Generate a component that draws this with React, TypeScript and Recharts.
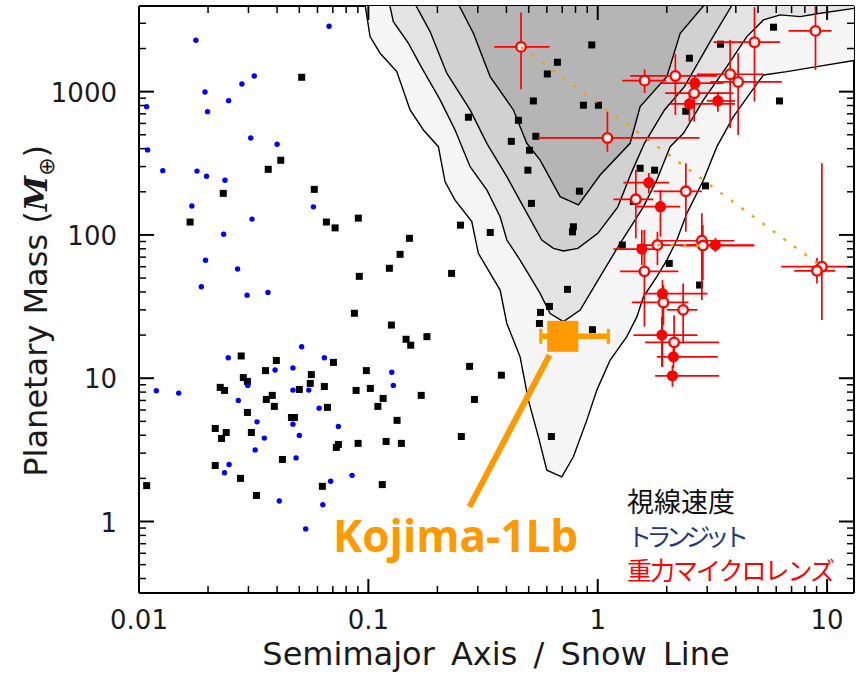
import { ScatterChart, Scatter, XAxis, YAxis } from "recharts";

// axis ticks (decades get labels, the rest are minor ticks)
const xTicks = [
  0.01, 0.02, 0.03, 0.04, 0.05, 0.06, 0.07, 0.08, 0.09,
  0.1, 0.2, 0.3, 0.4, 0.5, 0.6, 0.7, 0.8, 0.9,
  1, 2, 3, 4, 5, 6, 7, 8, 9, 10,
];
const yTicks = [
  0.4, 0.5, 0.6, 0.7, 0.8, 0.9, 1, 2, 3, 4, 5, 6, 7, 8, 9,
  10, 20, 30, 40, 50, 60, 70, 80, 90,
  100, 200, 300, 400, 500, 600, 700, 800, 900, 1000, 2000, 3000,
];

// sensitivity contours [a/snowline, mass], outermost first
const contour1: [number, number][] = [
  [0.0948, 5000], [0.1017, 2421], [0.1125, 1854], [0.133, 1380], [0.152, 745], [0.1738, 540],
  [0.2019, 413], [0.216, 235], [0.2388, 175], [0.2824, 124], [0.3017, 74.4], [0.3753, 41.2],
  [0.4015, 24.1], [0.4587, 14.1], [0.4985, 7.03], [0.5512, 3.9], [0.5998, 2.28], [0.6973, 2.05],
  [0.7832, 2.83], [0.8964, 5.1], [0.991, 8.26], [1.133, 13.4], [1.339, 19.5], [1.481, 26.8],
  [1.582, 37], [1.81, 51.1], [2.001, 66.8], [2.213, 92.1], [2.447, 141.5], [2.891, 241.8],
  [3.307, 413], [3.906, 669], [4.619, 975], [5.279, 1308], [6.677, 1380], [9.028, 1495],
  [14, 1680], [14, 5000],
];
const contour2: [number, number][] = [
  [0.1203, 5000], [0.1285, 3082], [0.1494, 2178], [0.1681, 1537], [0.2055, 875], [0.2388, 540],
  [0.2777, 299], [0.3284, 206], [0.3753, 134], [0.4015, 92.1], [0.4587, 66.8], [0.5607, 39.1],
  [0.62, 28.3], [0.7085, 24.8], [0.8382, 29.9], [0.9266, 39.1], [1.024, 51.1], [1.252, 87.4],
  [1.582, 157], [1.81, 242], [2.069, 413], [2.365, 512], [2.891, 875], [3.656, 1495],
  [4.468, 2421], [5.279, 3168], [6.243, 3432], [7.63, 3340], [9.33, 3528], [14, 3873], [14, 5000],
];
const contour3: [number, number][] = [
  [0.1494, 5000], [0.1858, 2624], [0.2197, 1344], [0.2777, 745], [0.3284, 436], [0.4015, 255],
  [0.4742, 157], [0.5703, 92.1], [0.6409, 80.6], [0.7085, 77.2], [0.8188, 80.6], [1.001, 102.6],
  [1.224, 157], [1.398, 269], [1.598, 436], [1.954, 745], [2.388, 1084], [2.732, 1579],
  [3.123, 2296], [3.817, 3924], [3.974, 5000],
];
const contour4: [number, number][] = [
  [0.2311, 5000], [0.287, 2557], [0.3394, 1273], [0.4289, 745], [0.4906, 436], [0.5607, 333],
  [0.6855, 185], [0.8237, 162], [1.024, 262], [1.384, 436], [1.531, 786], [2.001, 1273],
  [2.288, 2557], [2.891, 3967], [2.97, 5000],
];

// radial velocity planets [a, M]
const rvPlanets: [number, number][] = [
  [0.0512, 1260], [0.0415, 332], [0.0366, 287], [0.0233, 195], [0.0581, 208], [0.0167, 123],
  [0.0656, 123], [0.0716, 112], [0.0904, 131], [0.151, 94.7], [0.1375, 73.2], [0.1235, 58.5],
  [0.0913, 51.4], [0.0869, 28.4], [0.126, 23.5], [0.146, 18.7], [0.153, 17.0], [0.18, 19.5],
  [0.0279, 14.3], [0.0397, 13.3], [0.0704, 12.9], [0.0356, 11.3], [0.098, 11.3], [0.0564, 10.6],
  [0.0285, 10.1], [0.0297, 9.5], [0.0558, 9.2], [0.0226, 8.63], [0.0236, 8.22], [0.0643, 8.76],
  [0.05, 8.35], [0.0884, 8.22], [0.102, 8.49], [0.17, 7.59], [0.0381, 7.59], [0.0359, 7.11],
  [0.116, 7.23], [0.0389, 6.36], [0.0663, 6.26], [0.11, 6.36], [0.0297, 5.77], [0.0462, 5.32],
  [0.0476, 5.32], [0.1334, 5.08], [0.0215, 4.46], [0.024, 4.18], [0.0309, 4.18], [0.0229, 3.8],
  [0.0902, 3.51], [0.1195, 3.62], [0.1393, 3.51], [0.074, 3.45], [0.0725, 3.29], [0.0422, 2.71],
  [0.0215, 2.46], [0.0277, 2.0], [0.0108, 1.78], [0.115, 1.81], [0.063, 1.76], [0.0325, 1.52],
  [0.2306, 53.9], [0.2763, 12.1], [0.38, 10.5], [0.29, 7.11], [0.2543, 3.92], [0.628, 3.92],
  [0.738, 41.7], [0.616, 31.7], [0.563, 28.8], [0.557, 24.1], [0.948, 21.8], [0.942, 2119],
  [0.667, 1604], [0.603, 1329], [0.524, 861], [0.866, 804], [1.007, 804], [0.273, 663],
  [0.451, 631], [0.537, 488], [0.42, 450], [0.504, 390], [0.496, 283], [0.832, 202],
  [0.514, 166], [0.252, 117], [0.34, 104], [0.783, 114], [0.776, 105], [5.84, 2816],
  [3.43, 2143], [2.51, 1711], [6.2, 861], [2.42, 730], [1.53, 292], [1.77, 283],
  [2.95, 220], [1.43, 171], [1.28, 85], [2.05, 63.3], [2.78, 44.7],
];

// transit planets [a, M]
const transitPlanets: [number, number][] = [
  [0.0674, 2862], [0.0177, 2285], [0.0318, 1287], [0.0281, 1132], [0.0194, 995], [0.0246, 865],
  [0.0108, 786], [0.0199, 725], [0.0307, 475], [0.04, 429], [0.0109, 392], [0.0127, 281],
  [0.0179, 279], [0.0197, 257], [0.0237, 241], [0.017, 159], [0.0576, 157], [0.0311, 129],
  [0.0234, 101], [0.0195, 66.5], [0.0269, 57.8], [0.0187, 43.5], [0.0296, 38.0], [0.0365, 39.7],
  [0.0245, 13.9], [0.0512, 16.6], [0.0643, 13.9], [0.0392, 11.4], [0.0469, 11.8], [0.1265, 11.0],
  [0.0119, 8.17], [0.0149, 7.87], [0.0298, 8.91], [0.0469, 8.26], [0.055, 8.26], [0.1285, 8.91],
  [0.0271, 7.0], [0.061, 6.18], [0.0327, 4.96], [0.0469, 4.78], [0.074, 4.61], [0.0352, 3.82],
  [0.05, 3.99], [0.0321, 3.16], [0.0484, 2.78], [0.0247, 2.5], [0.0236, 2.19], [0.0849, 2.1],
  [0.0685, 1.91], [0.0409, 1.39], [0.0633, 1.31], [0.0533, 0.888],
];

// microlensing [a, aLow, aHigh, M, MLow, MHigh]
const mlOpen: number[][] = [
  [0.463, 0.354, 0.616, 2052, 1039, 3562],
  [1.102, 0.548, 2.777, 475, 381, 725],
  [1.601, 1.278, 1.987, 1193, 979, 1429],
  [2.18, 1.384, 3.317, 1287, 688, 1834],
  [2.633, 1.967, 3.906, 975, 617, 1207],
  [3.779, 2.705, 5.279, 1323, 555, 2296],
  [4.095, 3.092, 6.35, 1169, 498, 1854],
  [4.824, 3.195, 6.243, 2213, 852, 3886],
  [8.9, 6.785, 10.45, 2654, 1417, 4500],
  [1.466, 1.17, 1.749, 177.3, 94.7, 284],
  [2.422, 1.749, 2.844, 201.6, 105.3, 316],
  [1.821, 1.481, 2.796, 85.0, 61.6, 105.3],
  [2.844, 1.89, 3.945, 91.1, 35.1, 141.6],
  [2.873, 2.288, 4.81, 84.3, 48.4, 117.3],
  [1.598, 1.252, 2.248, 55.7, 22.9, 108.2],
  [1.934, 1.408, 2.486, 33.8, 23.5, 44.7],
  [2.357, 2.001, 2.721, 30.0, 17.5, 45.9],
  [2.153, 1.609, 3.383, 17.8, 14.5, 27.5],
  [9.49, 6.306, 13.4, 60.0, 25.5, 316],
  [9.03, 7.187, 10.85, 56.2, 45.9, 69.0],
];
const mlFilled: number[][] = [
  [2.651, 1.871, 3.533, 1145, 899, 1308],
  [2.511, 2.069, 3.973, 821, 617, 1000],
  [3.34, 2.991, 3.973, 861, 725, 1000],
  [1.67, 1.294, 2.047, 231.5, 196, 270.6],
  [1.877, 1.481, 2.288, 157.4, 97.2, 206],
  [1.557, 1.17, 1.779, 79.7, 61.6, 108.2],
  [3.26, 2.381, 4.81, 85.0, 75.9, 95.1],
  [1.915, 1.582, 3.009, 38.9, 12.0, 48.4],
  [1.904, 1.431, 2.721, 20.0, 12.0, 26.8],
  [2.138, 1.81, 3.34, 14.1, 11.8, 17.0],
  [2.117, 1.779, 3.383, 10.4, 8.71, 12.3],
];

// degenerate solutions joined by dotted lines
const degenerateA: [number, number][] = [[0.463, 2052], [9.49, 60.0]];
const degenerateB: [number, number][] = [[1.821, 85.0], [2.873, 84.3]];

// Kojima-1Lb [a, aLow, aHigh, M], cap extent in M, pointer line to label
const kojima = [0.704, 0.565, 1.113, 19.6];
const kojimaCap = [17.4, 22.1];
const kojimaPointer: [number, number][] = [[0.616, 14.5], [0.276, 1.265]];

const pts = (arr: [number, number][]) => arr.map(([a, m]) => ({ a, m }));

// every microlensing error bar as a two-point segment (so it sits above the contour fills)
const errorSegments = [...mlOpen, ...mlFilled].flatMap(([a, aLo, aHi, m, mLo, mHi]) => [
  pts([[aLo, m], [aHi, m]]),
  pts([[a, mLo], [a, mHi]]),
]);

const isMajor = (v: number) => Math.abs(Math.log10(v) - Math.round(Math.log10(v))) < 1e-6;
const tickFont = "'DejaVu Sans', sans-serif";

function BottomTick({ x, y, payload }: any) {
  const major = isMajor(payload.value);
  return (
    <g>
      <line x1={x} x2={x} y1={y} y2={y - (major ? 14 : 7)} stroke="#000" strokeWidth={major ? 2 : 1.5} />
      {major && (
        <text x={x} y={y + 36} textAnchor="middle" fontSize={26} fontFamily={tickFont} fill="#1a1a1a">
          {String(payload.value)}
        </text>
      )}
    </g>
  );
}

function TopTick({ x, y, payload }: any) {
  const major = isMajor(payload.value);
  return <line x1={x} x2={x} y1={y} y2={y + (major ? 14 : 7)} stroke="#000" strokeWidth={major ? 2 : 1.5} />;
}

function LeftTick({ x, y, payload }: any) {
  const major = isMajor(payload.value);
  return (
    <g>
      <line x1={x} x2={x + (major ? 15 : 7)} y1={y} y2={y} stroke="#000" strokeWidth={major ? 2 : 1.5} />
      {major && (
        <text x={x - 22} y={y + 10} textAnchor="end" fontSize={26} fontFamily={tickFont} fill="#1a1a1a">
          {String(payload.value)}
        </text>
      )}
    </g>
  );
}

function RightTick({ x, y, payload }: any) {
  const major = isMajor(payload.value);
  return <line x1={x} x2={x - (major ? 15 : 7)} y1={y} y2={y} stroke="#000" strokeWidth={major ? 2 : 1.5} />;
}

const noDot = () => <g />;
const square = (p: any) => <rect x={p.cx - 3.5} y={p.cy - 3.5} width={7} height={7} fill="#000" />;
const blueDot = (p: any) => <circle cx={p.cx} cy={p.cy} r={2.7} fill="#0000ff" />;
const openDot = (p: any) => <circle cx={p.cx} cy={p.cy} r={4.8} fill="#ffeeee" stroke="#ff0000" strokeWidth={2.3} />;
const fullDot = (p: any) => <circle cx={p.cx} cy={p.cy} r={5.6} fill="#ff0000" />;
const kojimaBox = (p: any) => <rect x={p.cx - 15.5} y={p.cy - 15.5} width={31} height={31} fill="#ff9900" />;

const axisLine = { stroke: "#000", strokeWidth: 2 };
const contourFills = ["#f5f5f5", "#e3e3e3", "#d1d1d1", "#b5b5b5"];
const orange = "#ff9900";

export default function App() {
  const contours = [contour1, contour2, contour3, contour4];
  const [ka, kaLo, kaHi, km] = kojima;
  return (
    <div style={{ position: "absolute", left: 0, top: 0, width: 862, height: 673, background: "#fff" }}>
      <ScatterChart width={862} height={673} margin={{ top: 0, right: 0, bottom: 0, left: 0 }}>
        <XAxis
          dataKey="a" type="number" scale="log" domain={[0.01, 13.1]} allowDataOverflow
          ticks={xTicks} interval={0} tickSize={0} tickMargin={0} tickLine={false}
          tick={(p: any) => <BottomTick {...p} />} axisLine={axisLine} height={80}
        />
        <XAxis
          xAxisId="top" orientation="top" dataKey="a" type="number" scale="log" domain={[0.01, 13.1]}
          allowDataOverflow ticks={xTicks} interval={0} tickSize={0} tickMargin={0} tickLine={false}
          tick={(p: any) => <TopTick {...p} />} axisLine={axisLine} height={6}
        />
        <YAxis
          dataKey="m" type="number" scale="log" domain={[0.317, 3960]} allowDataOverflow
          ticks={yTicks} interval={0} tickSize={0} tickMargin={0} tickLine={false}
          tick={(p: any) => <LeftTick {...p} />} axisLine={axisLine} width={139}
        />
        <YAxis
          yAxisId="right" orientation="right" dataKey="m" type="number" scale="log" domain={[0.317, 3960]}
          allowDataOverflow ticks={yTicks} interval={0} tickSize={0} tickMargin={0} tickLine={false}
          tick={(p: any) => <RightTick {...p} />} axisLine={axisLine} width={8}
        />

        {contours.map((c, i) => (
          <Scatter
            key={`c${i}`} data={pts(c)} shape={noDot} isAnimationActive={false}
            line={{ fill: contourFills[i], stroke: "#000", strokeWidth: 1.4 }}
          />
        ))}

        <Scatter data={pts(rvPlanets)} shape={square} isAnimationActive={false} />
        <Scatter
          data={pts(transitPlanets)} shape={blueDot} xAxisId="top" yAxisId="right" isAnimationActive={false}
        />

        {errorSegments.map((seg, i) => (
          <Scatter
            key={`e${i}`} data={seg} shape={noDot} isAnimationActive={false}
            line={{ stroke: "#ff0000", strokeWidth: 1.7 }}
          />
        ))}
        <Scatter data={pts(mlOpen.map((r) => [r[0], r[3]] as [number, number]))} shape={openDot} isAnimationActive={false} />
        <Scatter data={pts(mlFilled.map((r) => [r[0], r[3]] as [number, number]))} shape={fullDot} isAnimationActive={false} />

        {[degenerateA, degenerateB].map((d, i) => (
          <Scatter
            key={`d${i}`} data={pts(d)} shape={noDot} isAnimationActive={false}
            line={{ stroke: "#e8a317", strokeWidth: 2.4, strokeDasharray: "3 10" }}
          />
        ))}

        <Scatter
          data={pts(kojimaPointer)} shape={noDot} isAnimationActive={false}
          line={{ stroke: orange, strokeWidth: 6 }}
        />
        <Scatter
          data={pts([[kaLo, km], [kaHi, km]])} shape={noDot} isAnimationActive={false}
          line={{ stroke: orange, strokeWidth: 5.5 }}
        />
        {[kaLo, kaHi].map((a, i) => (
          <Scatter
            key={`k${i}`} data={pts([[a, kojimaCap[0]], [a, kojimaCap[1]]])} shape={noDot} isAnimationActive={false}
            line={{ stroke: "#d8c400", strokeWidth: 3.5 }}
          />
        ))}
        {[kaLo, kaHi].map((a, i) => (
          <Scatter
            key={`kk${i}`} data={pts([[a, kojimaCap[0]], [a, kojimaCap[1]]])} shape={noDot} isAnimationActive={false}
            line={{ stroke: orange, strokeWidth: 1.5 }}
          />
        ))}
        <Scatter data={pts([[ka, km]])} shape={kojimaBox} isAnimationActive={false} />
      </ScatterChart>

      <svg width={862} height={673} style={{ position: "absolute", left: 0, top: 0, pointerEvents: "none" }}>
        <text x={496} y={665} textAnchor="middle" fontFamily={tickFont} fontSize={32} fill="#1a1a1a" wordSpacing={6}>
          Semimajor Axis / Snow Line
        </text>
        <text transform="translate(46.7,476.7) rotate(-90)" fontFamily={tickFont} fontSize={32} fill="#1a1a1a">
          Planetary Mass (
          <tspan fontFamily="'DejaVu Serif', serif" fontStyle="italic" fontWeight="bold">M</tspan>
          <tspan fontSize={22} dy={7}>⊕</tspan>
          <tspan dy={-7}>)</tspan>
        </text>
        <text x={333} y={552} fontFamily="'Open Sans', sans-serif" fontWeight={700} fontSize={44} fill={orange}>
          Kojima-1Lb
        </text>
        <text x={627} y={512} fontFamily="'Noto Sans CJK JP', sans-serif" fontSize={27} fill="#111">
          視線速度
        </text>
        <text x={627} y={546} fontFamily="'Noto Sans CJK JP', sans-serif" fontSize={25} fill="#1f3a80" textLength={122}>
          トランジット
        </text>
        <text x={627} y={580} fontFamily="'Noto Sans CJK JP', sans-serif" fontSize={25} fill="#ff0000" textLength={208}>
          重力マイクロレンズ
        </text>
      </svg>
    </div>
  );
}
